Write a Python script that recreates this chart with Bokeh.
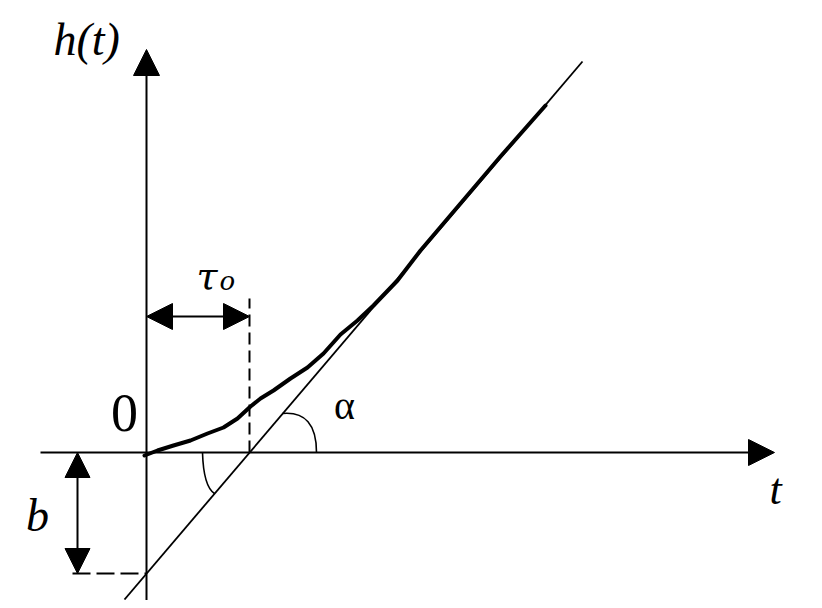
from bokeh.plotting import figure
from bokeh.models import Range1d, Arrow, NormalHead
from bokeh.core.properties import value
from bokeh.embed import file_html
from bokeh.resources import INLINE

# ---- diagram values (t, h units) ----
tau0 = 1.03          # delay tau_o
b_val = 1.21         # intercept depth b
axis_h = [-1.53, 4.03]   # vertical axis extent (bottom, arrow tip)
axis_t = [-1.06, 6.28]   # horizontal axis extent (left, arrow tip)

tangent_t = [-0.22, 4.36]
tangent_h = [-1.47, 3.91]

curve_t = [-0.02, 0.11, 0.27, 0.44, 0.61, 0.77, 0.91, 1.04, 1.14, 1.27, 1.44, 1.61,
           1.77, 1.94, 2.11, 2.27, 2.51, 2.74, 3.14, 3.54, 3.99]
curve_h = [-0.03, 0.02, 0.07, 0.12, 0.19, 0.25, 0.34, 0.46, 0.54, 0.62, 0.74, 0.85,
           0.99, 1.18, 1.32, 1.47, 1.72, 2.02, 2.49, 2.96, 3.47]

tau_arrow_h = 1.36
tau_dash_top = 1.54
b_arrow_t = -0.69
b_dash_left = -0.74

labels = ["h(t)", "t", "b", "0"]

p = figure(width=814, height=600, output_backend="svg", toolbar_location=None,
           x_range=Range1d(-1.46, 6.68), y_range=Range1d(-1.48, 4.52),
           min_border=0, background_fill_color="white", border_fill_color="white")
p.axis.visible = False
p.grid.visible = False
p.outline_line_color = None

# axes with arrows
p.add_layout(Arrow(x_start=0, y_start=axis_h[0], x_end=0, y_end=axis_h[1], line_width=2,
                   end=NormalHead(size=26, fill_color="black", line_color="black", line_width=1)))
p.add_layout(Arrow(x_start=axis_t[0], y_start=0, x_end=axis_t[1], y_end=0, line_width=2,
                   end=NormalHead(size=26, fill_color="black", line_color="black", line_width=1)))

# tangent line
p.line(tangent_t, tangent_h, line_color="black", line_width=1.8)

# response curve
p.line(curve_t, curve_h, line_color="black", line_width=4, line_join="round", line_cap="round")

# dashed guides
p.line([tau0, tau0], [0, tau_dash_top], line_color="black", line_width=2, line_dash="12 6")
p.line([b_dash_left, 0], [-b_val, -b_val], line_color="black", line_width=2, line_dash="18 6")

# tau_o dimension arrow
p.add_layout(Arrow(x_start=0, y_start=tau_arrow_h, x_end=tau0, y_end=tau_arrow_h, line_width=2,
                   start=NormalHead(size=26, fill_color="black", line_color="black", line_width=1),
                   end=NormalHead(size=26, fill_color="black", line_color="black", line_width=1)))
# b dimension arrow
p.add_layout(Arrow(x_start=b_arrow_t, y_start=0, x_end=b_arrow_t, y_end=-b_val, line_width=2,
                   start=NormalHead(size=25, fill_color="black", line_color="black", line_width=1),
                   end=NormalHead(size=25, fill_color="black", line_color="black", line_width=1)))

# angle arcs
p.quadratic(x0=[1.36], y0=[0.39], cx=[1.70], cy=[0.42], x1=[1.70], y1=[0.0],
            line_color="black", line_width=1.6)
p.quadratic(x0=[0.56], y0=[0.0], cx=[0.57], cy=[-0.34], x1=[0.68], y1=[-0.41],
            line_color="black", line_width=1.6)

serif = value("Liberation Serif")
dserif = value("DejaVu Serif")
p.text(x=[-0.93], y=[4.13], text=[labels[0]], text_font=serif, text_font_style="italic",
       text_font_size="46px", text_align="left", text_baseline="alphabetic", text_color="black")
p.text(x=[6.29], y=[-0.37], text=[labels[1]], text_font=serif, text_font_style="italic",
       text_font_size="44px", text_align="center", text_baseline="alphabetic", text_color="black")
p.text(x=[-1.09], y=[-0.63], text=[labels[2]], text_font=serif, text_font_style="italic",
       text_font_size="46px", text_align="center", text_baseline="alphabetic", text_color="black")
p.text(x=[-0.22], y=[0.40], text=[labels[3]], text_font=serif,
       text_font_size="54px", text_align="center", text_baseline="alphabetic", text_color="black")
p.text(x=[0.50], y=[1.77], text=["τ"], text_font=dserif, text_font_style="italic",
       text_font_size="38px", text_align="left", text_baseline="alphabetic", text_color="black")
p.text(x=[0.73], y=[1.72], text=["o"], text_font=dserif, text_font_style="italic",
       text_font_size="26px", text_align="left", text_baseline="alphabetic", text_color="black")
p.text(x=[1.98], y=[0.47], text=["α"], text_font=serif,
       text_font_size="40px", text_align="center", text_baseline="alphabetic", text_color="black")

open("out.html", "w").write(file_html(p, INLINE))
